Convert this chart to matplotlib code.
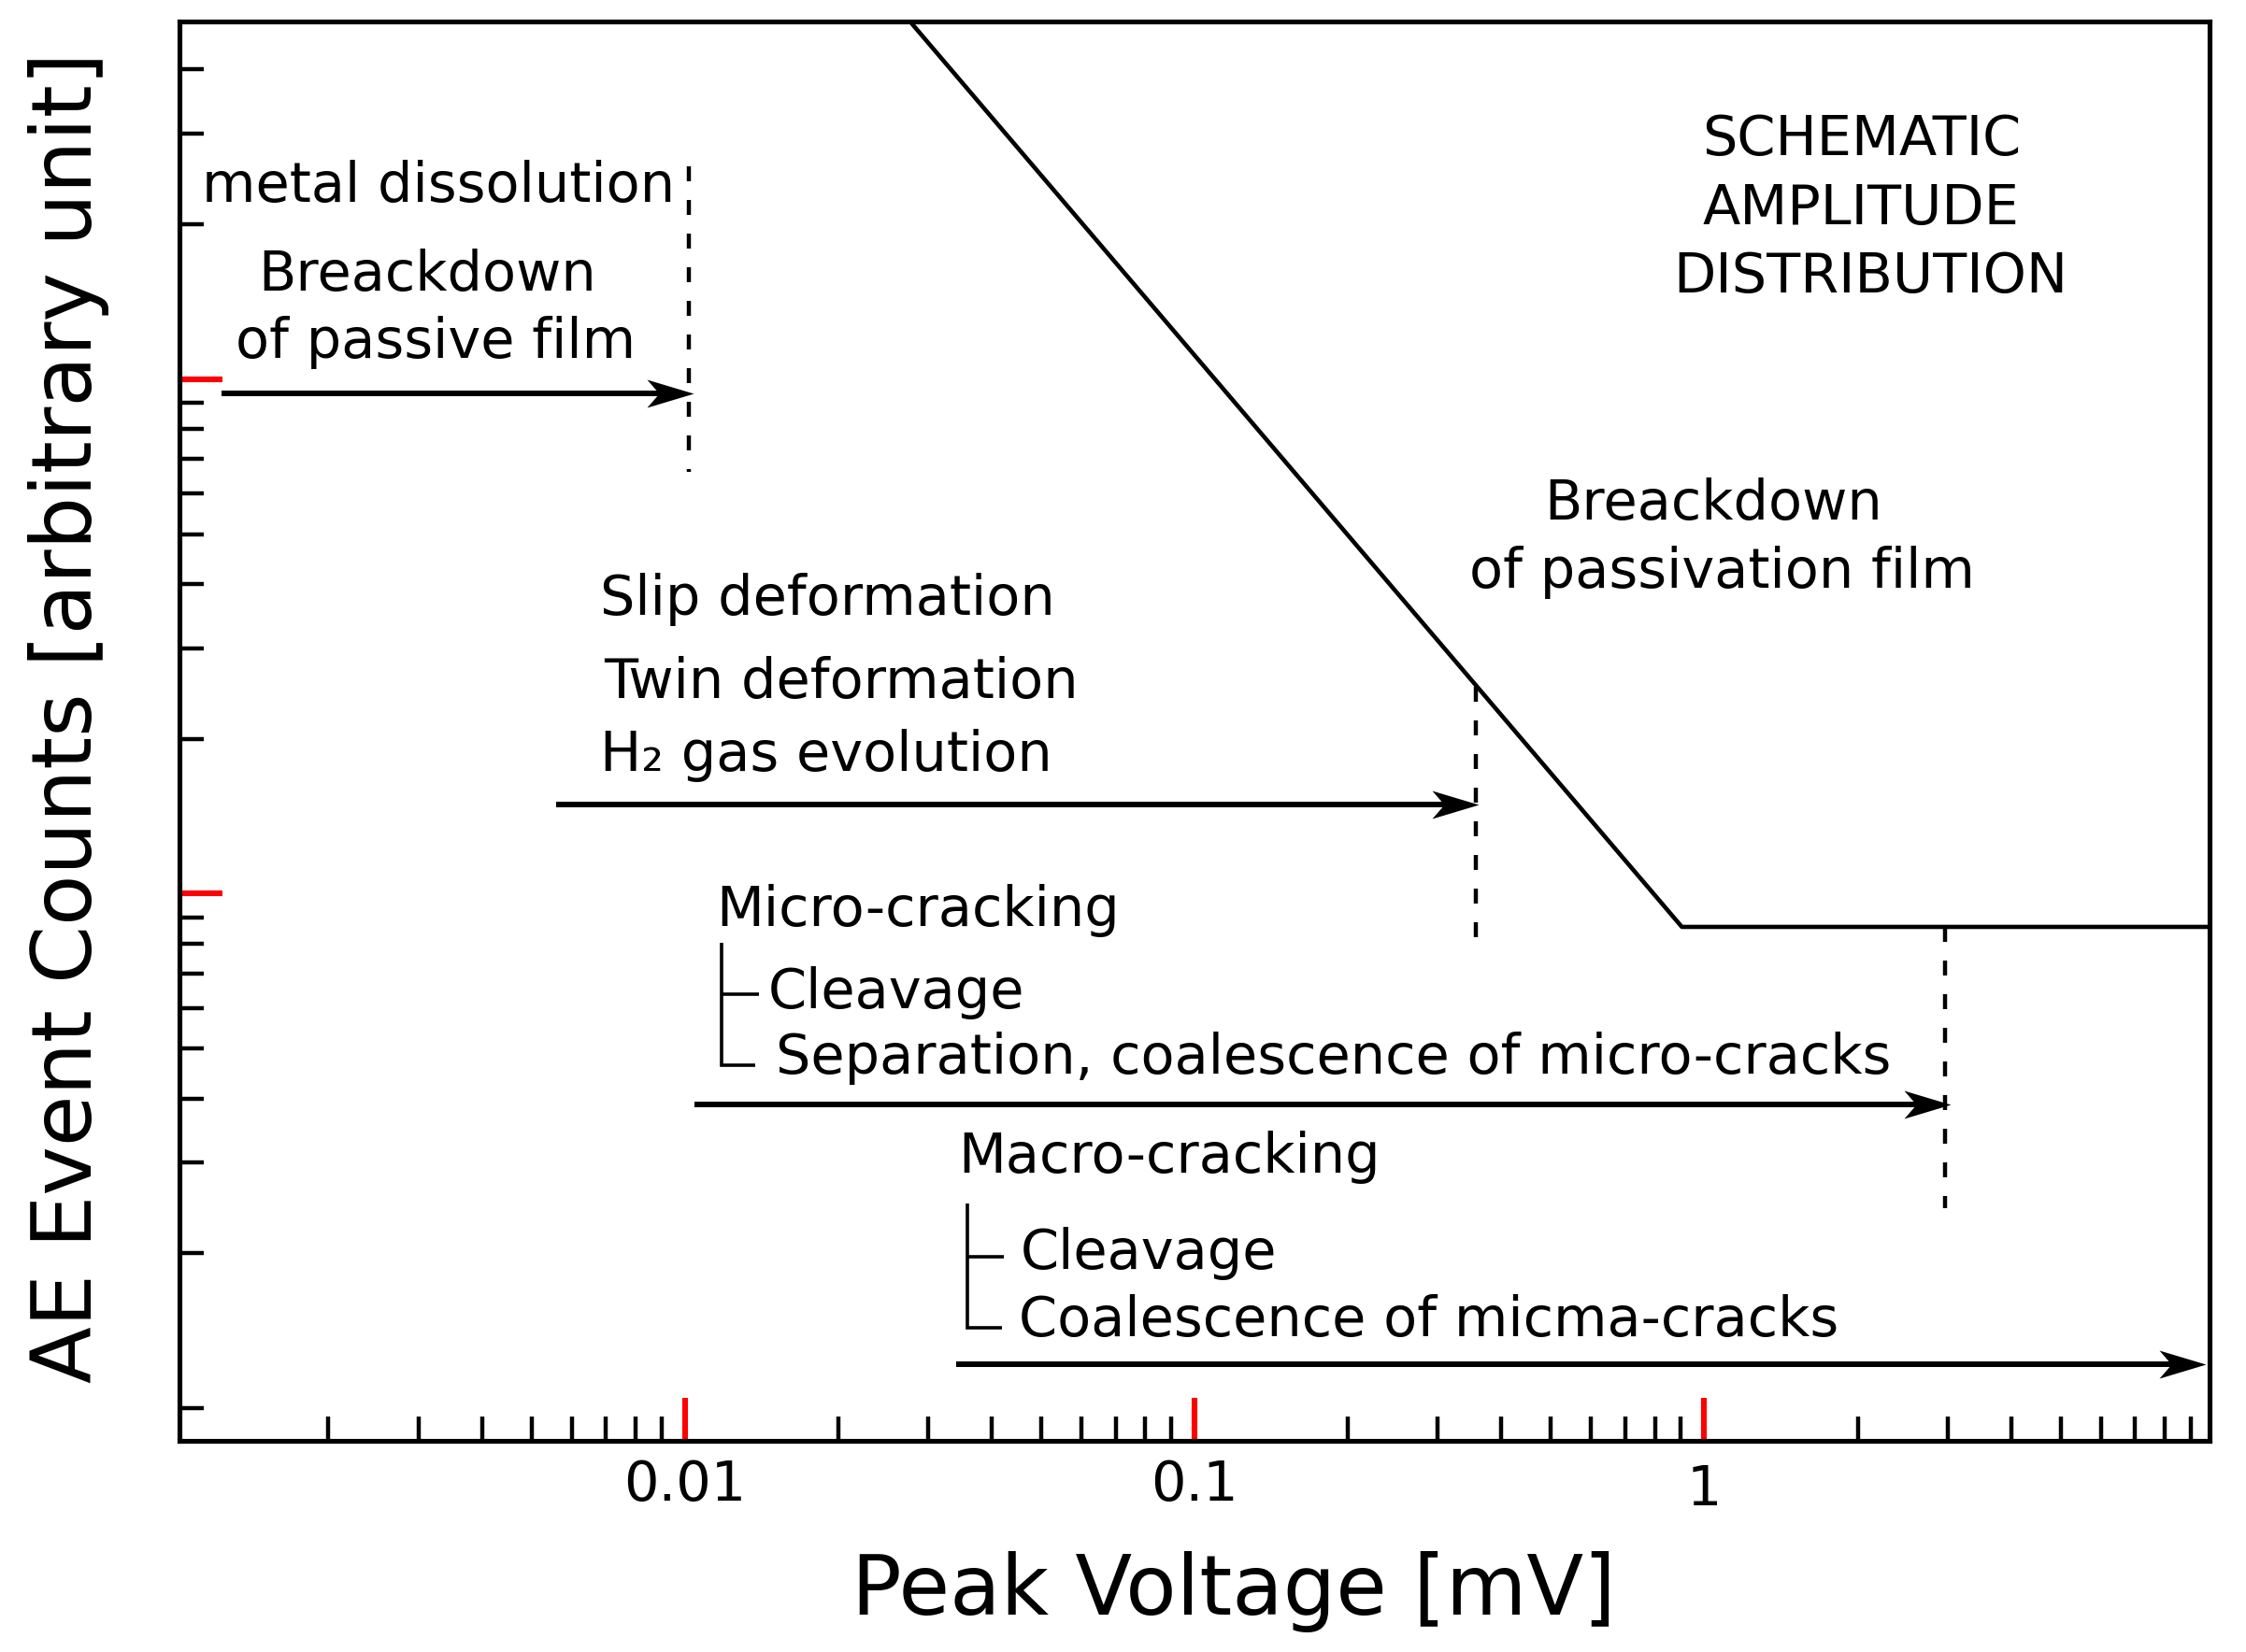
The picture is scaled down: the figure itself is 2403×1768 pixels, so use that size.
import numpy as np
import matplotlib
matplotlib.use("Agg")
import matplotlib.pyplot as plt
from matplotlib.path import Path
from matplotlib.ticker import FixedLocator, NullFormatter, FixedFormatter
from matplotlib.transforms import ScaledTranslation

plt.rcParams['font.family'] = ['DejaVu Sans']

# ---------------- data ----------------
x_limits = [0.00102, 9.8]
y_limits = [0.864, 496.0]
x_major_ticks = [0.01, 0.1, 1]
x_major_labels = ['0.01', '0.1', '1']
x_minor_ticks = [0.002, 0.003, 0.004, 0.005, 0.006, 0.007, 0.008, 0.009,
                 0.02, 0.03, 0.04, 0.05, 0.06, 0.07, 0.08, 0.09,
                 0.2, 0.3, 0.4, 0.5, 0.6, 0.7, 0.8, 0.9,
                 2, 3, 4, 5, 6, 7, 8, 9]
y_major_ticks = [10, 100]
y_minor_ticks = [1, 2, 3, 4, 5, 6, 7, 8, 9,
                 20, 30, 40, 50, 60, 70, 80, 90,
                 200, 300, 400]

# schematic amplitude distribution
amp_x = [0.02766, 0.9037, 9.8]
amp_y = [496.0, 8.62, 8.62]

# vertical dashed limits
dash_x = [0.0102, 0.357, 2.972]
dash_y_top = [259.6, 25.3, 8.62]
dash_y_bottom = [66.0, 7.60, 2.447]

# horizontal arrows (range of each mechanism)
arrow_start = [0.001231, 0.005595, 0.01046, 0.0340]
arrow_tip = [0.01039, 0.3616, 3.044, 9.647]
arrow_y = [93.9, 14.91, 3.898, 1.217]

# tree brackets (micro / macro cracking)
bracket_x = [0.01179, 0.03577]
bracket_top = [8.043, 2.499]
bracket_bottom = [4.642, 1.433]
bracket_mid = [6.391, 1.969]
bracket_stub_end = [0.01396, 0.04218]
bracket_corner_end = [0.01376, 0.04182]

# annotation texts
label_texts = [
    'metal dissolution', 'Breackdown', 'of passive film',
    'Slip deformation', 'Twin deformation', 'H\u2082 gas evolution',
    'Micro-cracking', 'Cleavage', 'Separation, coalescence of micro-cracks',
    'Macro-cracking', 'Cleavage', 'Coalescence of micma-cracks',
    'Breackdown', 'of passivation film',
    'SCHEMATIC', 'AMPLITUDE', 'DISTRIBUTION',
]
label_x = [0.001128, 0.003126, 0.003239,
           0.006828, 0.006927, 0.006828,
           0.01154, 0.01456, 0.01506,
           0.03444, 0.0455, 0.04521,
           1.043, 1.083,
           2.032, 2.031, 2.120]
label_y = [220.9, 148.8, 110.1,
           34.85, 24.02, 17.36,
           8.668, 6.0, 4.470,
           2.870, 1.865, 1.380,
           53.48, 39.26,
           272.9, 200.2, 147.6]
label_ha = ['left', 'center', 'center',
            'left', 'left', 'left',
            'left', 'left', 'left',
            'left', 'left', 'left',
            'center', 'center',
            'center', 'center', 'center']

x_label = 'Peak Voltage [mV]'
y_label = 'AE Event Counts [arbitrary unit]'

# ---------------- figure ----------------
W, H = 2403, 1768
fig = plt.figure(figsize=(W / 100, H / 100), dpi=100)
ax_l, ax_r, ax_t, ax_b = 192, 2364, 23, 1542
ax = fig.add_axes([ax_l / W, (H - ax_b) / H, (ax_r - ax_l) / W, (ax_b - ax_t) / H])
ax.set_xscale('log')
ax.set_yscale('log')
ax.set_xlim(*x_limits)
ax.set_ylim(*y_limits)

for sp in ax.spines.values():
    sp.set_linewidth(3.7)
    sp.set_color('black')

ax.xaxis.set_major_locator(FixedLocator(x_major_ticks))
ax.xaxis.set_major_formatter(FixedFormatter(x_major_labels))
ax.xaxis.set_minor_locator(FixedLocator(x_minor_ticks))
ax.xaxis.set_minor_formatter(NullFormatter())
ax.yaxis.set_major_locator(FixedLocator(y_major_ticks))
ax.yaxis.set_major_formatter(NullFormatter())
ax.yaxis.set_minor_locator(FixedLocator(y_minor_ticks))
ax.yaxis.set_minor_formatter(NullFormatter())

ax.tick_params(which='both', direction='in', top=False, right=False)
ax.tick_params(which='major', length=33, width=4.4, color='red', pad=13.5,
               labelsize=42.5, labelcolor='black')
ax.tick_params(which='minor', length=18.5, width=3.2, color='black')

# schematic line
ax.plot(amp_x, amp_y, color='black', lw=3.3, solid_capstyle='butt', zorder=3)

# dashed limits
for xd, yt, yb in zip(dash_x, dash_y_top, dash_y_bottom):
    ax.plot([xd, xd], [yt, yb], color='black', lw=3.2,
            linestyle=(0, (3.6, 4.5)), zorder=3)

# arrows with stealth heads
stealth = Path([(0, 0), (-1, 0.3), (-0.74, 0), (-1, -0.3), (0, 0)],
               [Path.MOVETO, Path.LINETO, Path.LINETO, Path.LINETO, Path.CLOSEPOLY])
ax_w_px = (ax_r - ax_l)
px_per_dec = ax_w_px / np.log10(x_limits[1] / x_limits[0])
back = 10 ** (-30 / px_per_dec)
for xs, xt, ya in zip(arrow_start, arrow_tip, arrow_y):
    ax.plot([xs, xt * back], [ya, ya], color='black', lw=4.3,
            solid_capstyle='butt', zorder=4)
    ax.plot([xt], [ya], linestyle='none', marker=stealth, markersize=72,
            color='black', markeredgewidth=0, zorder=5, clip_on=False)

# brackets
for bx, bt, bb, bm, bse, bce in zip(bracket_x, bracket_top, bracket_bottom,
                                    bracket_mid, bracket_stub_end, bracket_corner_end):
    ax.plot([bx, bx, bce], [bt, bb, bb], color='black', lw=2.6,
            solid_joinstyle='miter', solid_capstyle='butt', zorder=3)
    ax.plot([bx, bse], [bm, bm], color='black', lw=2.6,
            solid_capstyle='butt', zorder=3)

# texts
for t, x, y, ha in zip(label_texts, label_x, label_y, label_ha):
    ax.text(x, y, t, ha=ha, va='baseline', fontsize=42.5, color='black', zorder=6)

# axis labels
fig.text(1320 / W, 40 / H, x_label, ha='center', va='baseline', fontsize=64)
fig.text(97.7 / W, (H - 767.5) / H, y_label, rotation=90, rotation_mode='anchor',
         ha='center', va='baseline', fontsize=64)

# the "1" label sits slightly lower in the original
for lbl in ax.get_xticklabels():
    if lbl.get_text() == '1':
        lbl.set_transform(lbl.get_transform() +
                          ScaledTranslation(0, -5 / 100, fig.dpi_scale_trans))

fig.savefig('out.png', dpi=100, facecolor='white')
